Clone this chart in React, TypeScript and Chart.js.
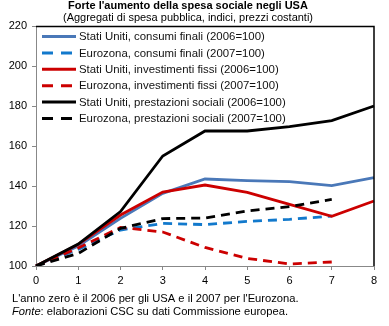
import React, { useEffect, useRef } from "react";
import { Chart, registerables } from "chart.js";

Chart.register(...registerables);

const years = ["0", "1", "2", "3", "4", "5", "6", "7", "8"];
const usConsumi = [100, 110, 123.8, 136.3, 143.5, 142.7, 142.2, 140.2, 144.2];
const euConsumi = [100, 108.3, 118, 121.3, 120.7, 122.3, 123.3, 125];
const usInvest = [100, 110.8, 125.5, 137, 140.5, 136.8, 130.8, 124.8, 132.5];
const euInvest = [100, 109, 119.3, 117, 109.3, 103.8, 101, 102];
const usPrest = [100, 111, 127.2, 155, 167.5, 167.5, 169.7, 172.7, 180];
const euPrest = [100, 106.3, 118.8, 123.7, 124, 127.5, 129.7, 133.3];

const seriesLabels = [
  "Stati Uniti, consumi finali (2006=100)",
  "Eurozona, consumi finali (2007=100)",
  "Stati Uniti, investimenti fissi (2006=100)",
  "Eurozona, investimenti fissi (2007=100)",
  "Stati Uniti, prestazioni sociali (2006=100)",
  "Eurozona, prestazioni sociali (2007=100)",
];
const seriesColors = ["#4A78B8", "#1279CC", "#CC0000", "#CC0000", "#000000", "#000000"];
const seriesDashed = [false, true, false, true, false, true];
const seriesData = [usConsumi, euConsumi, usInvest, euInvest, usPrest, euPrest];

const title = "Forte l'aumento della spesa sociale negli USA";
const subtitle = "(Aggregati di spesa pubblica, indici, prezzi costanti)";
const note1 = "L'anno zero è il 2006 per gli USA e il 2007 per l'Eurozona.";
const noteSourceLabel = "Fonte";
const noteSourceText = ": elaborazioni CSC su dati Commissione europea.";

const FONT = "'Liberation Sans', Arial, sans-serif";

const decorPlugin = {
  id: "decor",
  afterDraw(chart: any) {
    const ctx = chart.ctx as CanvasRenderingContext2D;
    const area = chart.chartArea;
    ctx.save();
    // frame top & right
    ctx.strokeStyle = "#000";
    ctx.lineWidth = 1.5;
    ctx.beginPath();
    ctx.moveTo(area.left, area.top + 0.5);
    ctx.lineTo(area.right, area.top + 0.5);
    ctx.lineTo(area.right, area.bottom);
    ctx.stroke();

    // titles
    ctx.fillStyle = "#000";
    ctx.textAlign = "center";
    ctx.textBaseline = "middle";
    ctx.font = `bold 11px ${FONT}`;
    ctx.fillText(title, 188, 6);
    ctx.font = `11px ${FONT}`;
    ctx.fillText(subtitle, 188, 18);

    // legend
    ctx.textAlign = "left";
    ctx.font = `11.4px ${FONT}`;
    const lx0 = 42;
    const ly0 = 36.5;
    const step = 16.4;
    seriesLabels.forEach((lab, i) => {
      const y = ly0 + i * step;
      ctx.strokeStyle = seriesColors[i];
      ctx.lineWidth = 3;
      ctx.setLineDash(seriesDashed[i] ? [11, 8] : []);
      ctx.beginPath();
      ctx.moveTo(lx0, y);
      ctx.lineTo(lx0 + 34, y);
      ctx.stroke();
      ctx.setLineDash([]);
      ctx.fillStyle = "#111";
      ctx.fillText(lab, 79, y + 0.5);
    });

    // footnotes
    ctx.fillStyle = "#000";
    ctx.font = `11.2px ${FONT}`;
    ctx.fillText(note1, 12, 299);
    ctx.font = `italic 11.2px ${FONT}`;
    ctx.fillText(noteSourceLabel, 12, 312);
    const w = ctx.measureText(noteSourceLabel).width;
    ctx.font = `11.2px ${FONT}`;
    ctx.fillText(noteSourceText, 12 + w, 312);
    ctx.restore();
  },
};

export default function App() {
  const ref = useRef<HTMLCanvasElement>(null);
  useEffect(() => {
    if (!ref.current) return;
    const chart = new Chart(ref.current, {
      type: "line",
      data: {
        labels: years,
        datasets: seriesData.map((d, i) => ({
          label: seriesLabels[i],
          data: d,
          borderColor: seriesColors[i],
          backgroundColor: seriesColors[i],
          borderWidth: 2.8,
          borderDash: seriesDashed[i] ? [9, 6] : [],
          pointRadius: 0,
          tension: 0,
          fill: false,
          order: 5 - i,
        })),
      },
      options: {
        responsive: false,
        animation: false,
        layout: { padding: { top: 26, right: 15, left: 0, bottom: 0 } },
        plugins: {
          legend: { display: false },
          title: { display: false },
          tooltip: { enabled: false },
        },
        scales: {
          x: {
            type: "category",
            offset: false,
            grid: { drawOnChartArea: false, drawTicks: true, tickLength: 4, color: "#888" },
            border: { color: "#888", width: 1 },
            ticks: { color: "#000", font: { family: FONT, size: 11 }, padding: 4, maxRotation: 0 },
            afterFit: (s: any) => {
              s.height = 60;
            },
          },
          y: {
            min: 100,
            max: 220,
            ticks: { stepSize: 20, color: "#000", font: { family: FONT, size: 11 }, padding: 5 },
            grid: { drawOnChartArea: false, drawTicks: true, tickLength: 4, color: "#888" },
            border: { color: "#888", width: 1 },
            afterFit: (s: any) => {
              s.width = 36;
            },
          },
        },
      },
      plugins: [decorPlugin],
    });
    return () => chart.destroy();
  }, []);
  return (
    <div style={{ position: "absolute", left: 0, top: 0, width: 389, height: 326, background: "#fff" }}>
      <canvas ref={ref} width={389} height={326} style={{ display: "block" }} />
    </div>
  );
}
